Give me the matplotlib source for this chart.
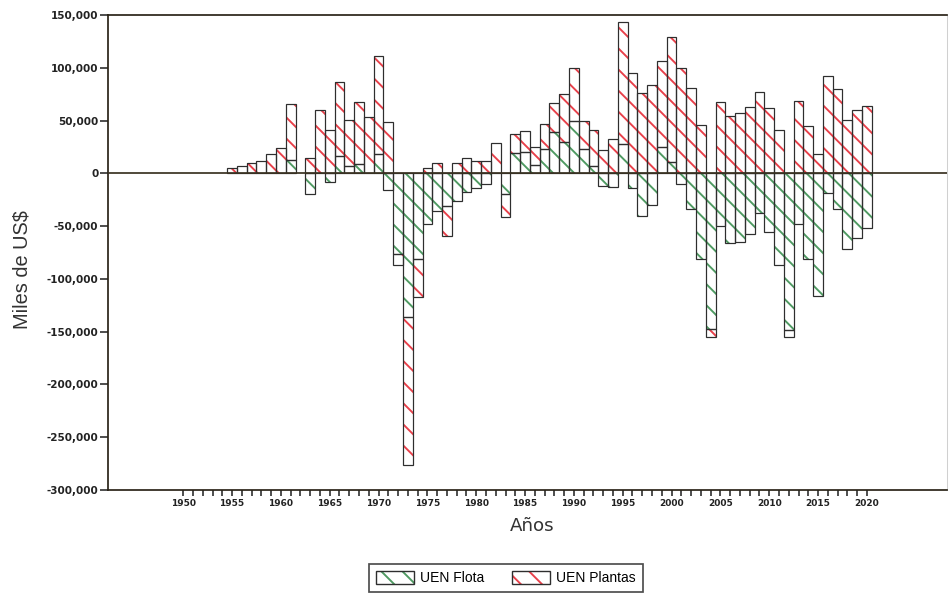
import matplotlib
matplotlib.use("Agg")
import matplotlib.pyplot as plt
from matplotlib.patches import Patch
from matplotlib.legend_handler import HandlerTuple
from matplotlib.ticker import FuncFormatter, FixedLocator

years = list(range(1955, 2021))
flota = [0, 0, 0, 0, 0, 0, 13000, 0, -20000, 0,
         -8000, 16000, 7000, 9000, 0, 18000, -16000, -76000, -136000, -81000,
         -48000, -36000, -31000, -26000, -18000, -14000, -10000, 0, -20000, 19000,
         20000, 8000, 23000, 39000, 30000, 50000, 23000, 7000, -12000, -13000,
         28000, -14000, -40000, -30000, 25000, 11000, -10000, -34000, -81000, -147000,
         -50000, -66000, -65000, -57000, -38000, -56000, -87000, -148000, -48000, -81000,
         -116000, -19000, -34000, -72000, -61000, -52000]
plantas = [5000, 7000, 10000, 12000, 18000, 24000, 53000, 0, 15000, 60000,
           41000, 71000, 44000, 59000, 53000, 93000, 49000, -11000, -140000, -36000,
           5000, 10000, -28000, 10000, 15000, 12000, 12000, 29000, -21000, 18000,
           20000, 17000, 24000, 28000, 45000, 50000, 27000, 34000, 22000, 33000,
           115000, 95000, 76000, 84000, 81000, 118000, 100000, 81000, 46000, -8000,
           68000, 54000, 57000, 63000, 77000, 62000, 41000, -7000, 69000, 45000,
           18000, 92000, 80000, 51000, 60000, 64000]
series_names = ["UEN Flota", "UEN Plantas"]
y_ticks = list(range(-300000, 150001, 50000))
x_label_years = list(range(1950, 2021, 5))

DPI = 190
S = 125 / DPI  # point-size scale so pixel sizes stay fixed
GREEN = "#4f9a62"
RED = "#e8404a"
EDGE = "#2e2e2e"
HATCH = "\\" * 3

plt.rcParams["hatch.linewidth"] = 1.1 * S

fig = plt.figure(figsize=(949 / DPI, 593 / DPI), dpi=DPI)
fig.patch.set_facecolor("white")
ax = fig.add_axes([108 / 949, 1 - 490 / 593, (947 - 108) / 949, (490 - 15) / 593])

# stacked: red on top of green when same sign, else from zero
red_bottom = [g if (g > 0 and p > 0) or (g < 0 and p < 0) else 0 for g, p in zip(flota, plantas)]

ax.bar(years, flota, width=1.0, bottom=0, facecolor="none", edgecolor=GREEN,
       hatch=HATCH, linewidth=0, zorder=2)
ax.bar(years, plantas, width=1.0, bottom=red_bottom, facecolor="none", edgecolor=RED,
       hatch=HATCH, linewidth=0, zorder=2)
for vals, bot in ((flota, [0] * len(years)), (plantas, red_bottom)):
    yy = [y for y, v in zip(years, vals) if v != 0]
    vv = [v for v in vals if v != 0]
    bb = [b for b, v in zip(bot, vals) if v != 0]
    ax.bar(yy, vv, width=1.0, bottom=bb, facecolor="none", edgecolor=EDGE,
           linewidth=0.7 * S, zorder=3)

ax.axhline(0, color="#3a3222", lw=1.0 * S, zorder=5)

ax.set_xlim(1942.3, 2028.2)
ax.set_ylim(-300000, 150000)

ax.yaxis.set_major_locator(FixedLocator(y_ticks))
ax.yaxis.set_major_formatter(FuncFormatter(lambda v, p: f"{int(v):,}"))
ax.xaxis.set_major_locator(FixedLocator(x_label_years))
ax.xaxis.set_minor_locator(FixedLocator(list(range(1950, 2021))))
ax.xaxis.set_major_formatter(FuncFormatter(lambda v, p: f"{int(v)}"))

ax.tick_params(axis="y", direction="out", length=4.6 * S, width=0.9 * S, pad=1 * S,
               labelsize=6 * S, colors="#222222")
ax.tick_params(axis="x", which="both", direction="out", length=3.4 * S, width=0.9 * S,
               pad=1.5 * S, labelsize=5.2 * S, colors="#222222")
for lab in ax.get_xticklabels() + ax.get_yticklabels():
    lab.set_fontfamily("DejaVu Sans")
    lab.set_fontweight("bold")

for s in ("left", "bottom", "top"):
    ax.spines[s].set_linewidth(1.0 * S)
    ax.spines[s].set_color("#2a2418")
ax.spines["right"].set_color("#d0d0d0")
ax.spines["right"].set_linewidth(0.6 * S)

fig.text(22 / 949, 1 - 270 / 593, "Miles de US$", rotation=90, ha="center", va="center",
         fontsize=11.5 * S, family="Liberation Sans", color="#333333")
fig.text(532 / 949, 1 - 526 / 593, "Años", ha="center", va="center",
         fontsize=10.5 * S, family="DejaVu Sans", color="#333333")

h1 = (Patch(facecolor="none", edgecolor=GREEN, hatch=HATCH, linewidth=0),
      Patch(facecolor="none", edgecolor=EDGE, linewidth=0.8 * S))
h2 = (Patch(facecolor="none", edgecolor=RED, hatch=HATCH, linewidth=0),
      Patch(facecolor="none", edgecolor=EDGE, linewidth=0.8 * S))
leg = fig.legend([h1, h2], series_names,
                 handler_map={tuple: HandlerTuple(ndivide=1, pad=0)},
                 loc="upper center", bbox_to_anchor=(506 / 949, 1 - 557 / 593), ncol=2,
                 frameon=True, fancybox=False, edgecolor="#222222",
                 prop={"family": "Liberation Sans", "size": 8 * S},
                 handlelength=2.7, handleheight=1.1, handletextpad=0.45,
                 columnspacing=2.0, borderpad=0.5)
leg.get_frame().set_linewidth(1.0 * S)

fig.savefig("out.png", dpi=DPI)
